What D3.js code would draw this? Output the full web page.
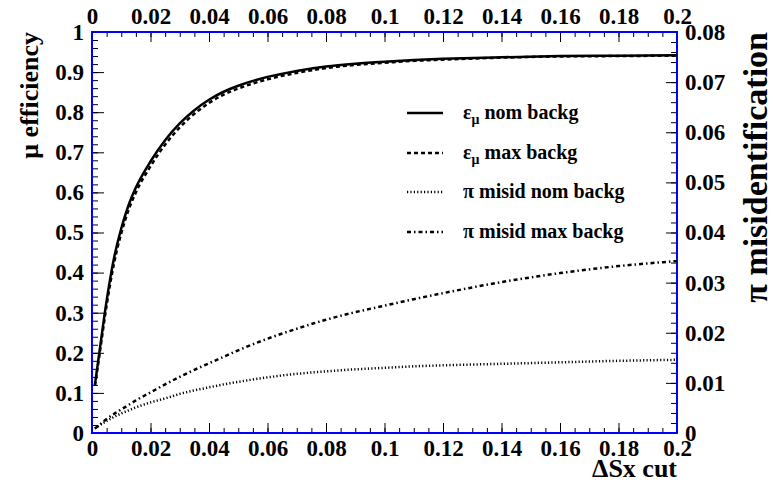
<!DOCTYPE html>
<html>
<head>
<meta charset="utf-8">
<script src="https://cdn.jsdelivr.net/npm/d3@7"></script>
<style>
  html, body { margin: 0; padding: 0; background: #fff; }
</style>
</head>
<body>
<svg id="chart" width="773" height="484"></svg>
<script>
// ΔSx cut values (x) and the four curves sampled at them
const cutValues = [0.001, 0.0025, 0.005, 0.0075, 0.01, 0.0125, 0.015, 0.02, 0.025, 0.03, 0.035, 0.04, 0.045, 0.05,
                   0.06, 0.07, 0.08, 0.09, 0.1, 0.11, 0.12, 0.14, 0.16, 0.18, 0.2];
// muon efficiency, nominal background (left axis)
const effNom = [0.120, 0.200, 0.330, 0.435, 0.510, 0.568, 0.612, 0.677, 0.730, 0.772, 0.805, 0.831, 0.851, 0.866,
                0.888, 0.903, 0.914, 0.921, 0.926, 0.930, 0.933, 0.937, 0.940, 0.941, 0.942];
// muon efficiency, maximal background (left axis)
const effMax = [0.118, 0.192, 0.318, 0.422, 0.498, 0.556, 0.600, 0.665, 0.719, 0.762, 0.796, 0.823, 0.844, 0.859,
                0.882, 0.898, 0.910, 0.918, 0.923, 0.928, 0.931, 0.936, 0.939, 0.940, 0.941];
// pion misidentification, nominal background (right axis)
const misNom = [0.0009, 0.0015, 0.0024, 0.0032, 0.0039, 0.0045, 0.0051, 0.0061, 0.0069, 0.0078, 0.0085, 0.0091, 0.0097, 0.0102,
                0.0111, 0.0118, 0.0123, 0.0127, 0.0130, 0.0133, 0.0135, 0.0138, 0.0141, 0.0144, 0.0146];
// pion misidentification, maximal background (right axis)
const misMax = [0.0009, 0.0016, 0.0028, 0.0038, 0.0047, 0.0056, 0.0065, 0.0081, 0.0097, 0.0112, 0.0126, 0.0139, 0.0152, 0.0165,
                0.0188, 0.0208, 0.0226, 0.0241, 0.0254, 0.0267, 0.0279, 0.0301, 0.0319, 0.0333, 0.0343];

// tick values and labels
const xTicks = [0, 0.02, 0.04, 0.06, 0.08, 0.1, 0.12, 0.14, 0.16, 0.18, 0.2];
const xTickLabels = ["0", "0.02", "0.04", "0.06", "0.08", "0.1", "0.12", "0.14", "0.16", "0.18", "0.2"];
const leftTicks = [0, 0.1, 0.2, 0.3, 0.4, 0.5, 0.6, 0.7, 0.8, 0.9, 1];
const leftTickLabels = ["0", "0.1", "0.2", "0.3", "0.4", "0.5", "0.6", "0.7", "0.8", "0.9", "1"];
const rightTicks = [0, 0.01, 0.02, 0.03, 0.04, 0.05, 0.06, 0.07, 0.08];
const rightTickLabels = ["0", "0.01", "0.02", "0.03", "0.04", "0.05", "0.06", "0.07", "0.08"];

const legendLabels = [
  { sym: "ε", sub: "μ", text: " nom backg" },
  { sym: "ε", sub: "μ", text: " max backg" },
  { sym: "π", sub: "", text: " misid nom backg" },
  { sym: "π", sub: "", text: " misid max backg" }
];

const FONT = "'Liberation Serif', 'Times New Roman', Times, 'DejaVu Serif', serif";
const frame = { left: 92, right: 677, top: 32, bottom: 433 };
const svg = d3.select("#chart");

const x = d3.scaleLinear().domain([0, 0.2]).range([frame.left, frame.right]);
const yL = d3.scaleLinear().domain([0, 1]).range([frame.bottom, frame.top]);
const yR = d3.scaleLinear().domain([0, 0.08]).range([frame.bottom, frame.top]);

const xMinor = d3.range(0, 41).map(i => i * 0.005);
const leftMinor = d3.range(0, 51).map(i => i * 0.02);
const rightMinor = d3.range(0, 41).map(i => i * 0.002);

function styleText(sel, size) {
  sel.style("font-family", FONT).style("font-weight", "bold")
     .style("font-size", size + "px").style("fill", "#000");
}

function styleAxis(g) {
  g.attr("font-family", null);
  g.select(".domain").remove();
  g.selectAll(".tick line").attr("stroke", "#000").attr("stroke-width", 1);
  g.selectAll(".tick text").call(styleText, 23);
}

// minor ticks (no labels)
svg.append("g").attr("transform", `translate(0,${frame.bottom})`)
  .call(d3.axisBottom(x).tickValues(xMinor).tickSize(-5).tickFormat(""))
  .call(styleAxis);
svg.append("g").attr("transform", `translate(0,${frame.top})`)
  .call(d3.axisTop(x).tickValues(xMinor).tickSize(-5).tickFormat(""))
  .call(styleAxis);
svg.append("g").attr("transform", `translate(${frame.left},0)`)
  .call(d3.axisLeft(yL).tickValues(leftMinor).tickSize(-6).tickFormat(""))
  .call(styleAxis);
svg.append("g").attr("transform", `translate(${frame.right},0)`)
  .call(d3.axisRight(yR).tickValues(rightMinor).tickSize(-6).tickFormat(""))
  .call(styleAxis);

// major ticks with labels
svg.append("g").attr("transform", `translate(0,${frame.bottom})`)
  .call(d3.axisBottom(x).tickValues(xTicks).tickSize(-10).tickPadding(7)
    .tickFormat((d, i) => xTickLabels[i]))
  .call(styleAxis);
svg.append("g").attr("transform", `translate(0,${frame.top})`)
  .call(d3.axisTop(x).tickValues(xTicks).tickSize(-10).tickPadding(8)
    .tickFormat((d, i) => xTickLabels[i]))
  .call(styleAxis);
svg.append("g").attr("transform", `translate(${frame.left},0)`)
  .call(d3.axisLeft(yL).tickValues(leftTicks).tickSize(-12).tickPadding(8)
    .tickFormat((d, i) => leftTickLabels[i]))
  .call(styleAxis);
svg.append("g").attr("transform", `translate(${frame.right},0)`)
  .call(d3.axisRight(yR).tickValues(rightTicks).tickSize(-11).tickPadding(8)
    .tickFormat((d, i) => rightTickLabels[i]))
  .call(styleAxis);

// blue frame
svg.append("rect")
  .attr("x", frame.left).attr("y", frame.top)
  .attr("width", frame.right - frame.left).attr("height", frame.bottom - frame.top)
  .attr("fill", "none").attr("stroke", "#0000ff").attr("stroke-width", 2);

// curves
const series = [
  { values: effNom, y: yL, dash: null },
  { values: effMax, y: yL, dash: "4,3" },
  { values: misNom, y: yR, dash: "1.2,2.2" },
  { values: misMax, y: yR, dash: "4,3,1.5,3" }
];

series.forEach(s => {
  const line = d3.line()
    .x((d, i) => x(cutValues[i]))
    .y(d => s.y(d))
    .curve(d3.curveMonotoneX);
  svg.append("path")
    .datum(s.values)
    .attr("d", line)
    .attr("fill", "none")
    .attr("stroke", "#000")
    .attr("stroke-width", 2.5)
    .attr("stroke-dasharray", s.dash);
});

// legend
const legendRowY = [113, 153, 192, 232];
const legend = svg.append("g");
legendLabels.forEach((item, i) => {
  const cy = legendRowY[i];
  legend.append("line")
    .attr("x1", 407).attr("x2", 443).attr("y1", cy).attr("y2", cy)
    .attr("stroke", "#000").attr("stroke-width", 2.5)
    .attr("stroke-dasharray", series[i].dash);
  const t = legend.append("text")
    .attr("x", 463).attr("y", cy + 6)
    .call(styleText, 20);
  t.append("tspan").text(item.sym);
  if (item.sub) {
    t.append("tspan").text(item.sub).style("font-size", "14px").attr("dy", 5);
    t.append("tspan").text(item.text).attr("dy", -5);
  } else {
    t.append("tspan").text(item.text);
  }
});

// axis titles
svg.append("text")
  .attr("transform", `translate(37.5,${frame.top}) rotate(-90)`)
  .attr("text-anchor", "end")
  .call(styleText, 26)
  .text("μ efficiency");

svg.append("text")
  .attr("transform", `translate(767,${frame.top}) rotate(-90)`)
  .attr("text-anchor", "end")
  .call(styleText, 34)
  .text("π misidentification");

svg.append("text")
  .attr("x", frame.right).attr("y", 477)
  .attr("text-anchor", "end")
  .call(styleText, 26)
  .text("ΔSx cut");
</script>
</body>
</html>
